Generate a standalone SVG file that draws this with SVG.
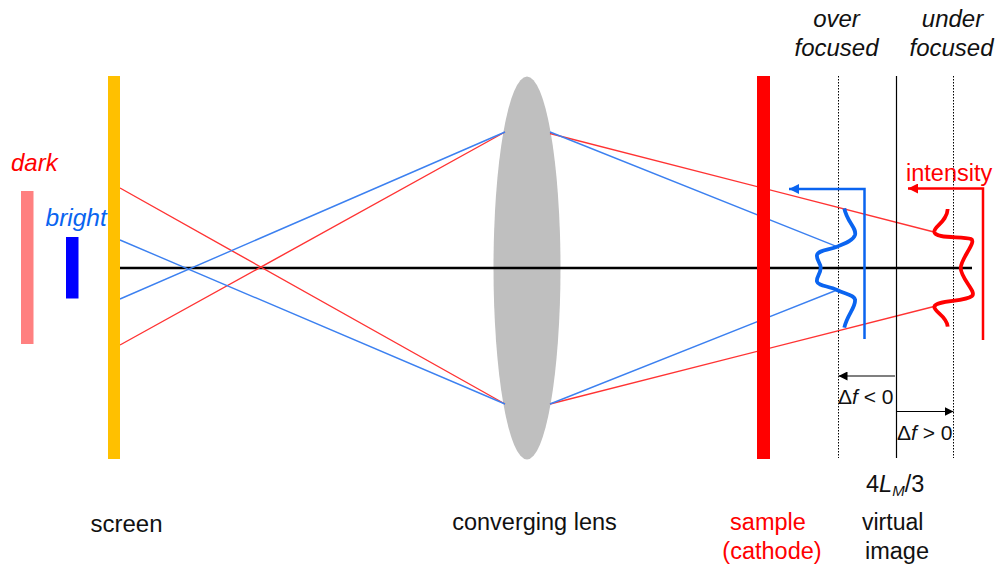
<svg xmlns="http://www.w3.org/2000/svg" width="995" height="564" viewBox="0 0 995 564">
<style>
text{font-family:"Liberation Sans",Arial,sans-serif;font-size:24px;fill:#111}
.m{text-anchor:middle}.i{font-style:italic}.r{fill:#f00}.b{fill:#0a64f0}
.ray{fill:none;stroke-width:1.4}.rr{stroke:#f33}.rb{stroke:#3c80f0}
.k{stroke:#000;fill:none}.d{stroke-dasharray:1.5 1.5}
.small{font-size:21px}
.mid{font-size:23.500px}
.v{font-size:23px}
.w{font-size:24.500px}
</style>
<defs>
<marker id="ab" viewBox="0 0 10 10" refX="10" refY="5" markerWidth="10" markerHeight="10" orient="auto" markerUnits="userSpaceOnUse"><path d="M0 0L10 5L0 10Z" fill="#0a64f0"/></marker>
<marker id="ar" viewBox="0 0 10 10" refX="10" refY="5" markerWidth="10" markerHeight="10" orient="auto" markerUnits="userSpaceOnUse"><path d="M0 0L10 5L0 10Z" fill="#f00"/></marker>
<marker id="ak" viewBox="0 0 10 10" refX="10" refY="5" markerWidth="9" markerHeight="9" orient="auto" markerUnits="userSpaceOnUse"><path d="M0 0L10 5L0 10Z" fill="#000"/></marker>
</defs>
<rect width="995" height="564" fill="#fff"/>
<g id="dark-bar"><rect x="21" y="191" width="12.500" height="153" fill="#ff8080"/><text class="i r" x="11" y="171">dark</text></g>
<g id="bright-bar"><rect x="66" y="237" width="12.500" height="61.500" fill="#00f"/><text class="i b w" x="45.500" y="226">bright</text></g>
<g id="lens"><ellipse cx="527" cy="268" rx="33.500" ry="191.500" fill="#bfbfbf"/><text class="m mid" x="534.500" y="530">converging lens</text></g>
<g id="connectors">
<path class="k" stroke-width="2.500" d="M120 268H972"/>
<path class="ray rr" d="M120 188L505 404M120 345L505 132M550 133.500L933 231.700M550 404L933 306.700"/>
<path class="ray rb" d="M120 240L505 404M120 299L505 132M550 132L837 246.700M550 404L837 290"/>
<path class="k d" stroke-width="1" d="M838.500 76V458M953.500 76V458"/>
<path class="k" stroke-width="1.200" d="M896.500 76V458"/>
<path fill="none" stroke="#0a64f0" stroke-width="2.500" marker-end="url(#ab)" d="M864.500 339V189H789"/>
<path fill="none" stroke="#f00" stroke-width="2.500" marker-end="url(#ar)" d="M983 340V188.500H908"/>
<path class="k" stroke-width="1.200" marker-end="url(#ak)" d="M895 376H838.500"/>
<path class="k" stroke-width="1.200" marker-end="url(#ak)" d="M897 411.500H953.500"/>
<path fill="none" stroke="#0a64f0" stroke-width="3.800" d="M844.300 208.300C847 222 857 228 855 235C853 241 843 244 837 246.700C829 250 818 250 817 255C816 260 821 263 820.700 268C820.500 274 816 277 817 281.700C818 286 829 286 837 290C845 294 855 295 855 300C856 307 847 315 844.300 327.700"/>
<path fill="none" stroke="#f00" stroke-width="3.800" d="M947.700 209C947 222 934 226 934.300 231.700C935 239 962 236 971 239C977 242 961 258 960.700 268C961 279 977 292 972 296C965 302 936 300 934.300 306.700C934 312 947 316 947.700 326.700"/>
</g>
<g id="screen"><rect x="108" y="76" width="12" height="383" fill="#ffc000"/><text class="m" x="126.500" y="532">screen</text></g>
<g id="sample"><rect x="757" y="76" width="13" height="383" fill="#f00"/><text class="m r mid" x="768" y="530">sample</text><text class="m r mid" x="772" y="559">(cathode)</text></g>
<g id="over-focused"><text class="m i" x="836.500" y="27">over</text><text class="m i" x="836.500" y="56">focused</text></g>
<g id="under-focused"><text class="m i" x="952.500" y="27">under</text><text class="m i" x="951.500" y="56">focused</text></g>
<g id="intensity"><text class="r mid" x="906" y="181">intensity</text></g>
<g id="delta-neg"><text class="small" x="838" y="404">Δ<tspan font-style="italic">f</tspan> &lt; 0</text></g>
<g id="delta-pos"><text class="small" x="897" y="440">Δ<tspan font-style="italic">f</tspan> &gt; 0</text></g>
<g id="lm"><text class="mid" x="866" y="492">4<tspan font-style="italic">L</tspan><tspan font-style="italic" font-size="15" dy="4">M</tspan><tspan dy="-4">/3</tspan></text></g>
<g id="virtual-image"><text class="v" x="862" y="530">virtual</text><text class="mid" x="865" y="559">image</text></g>
</svg>
